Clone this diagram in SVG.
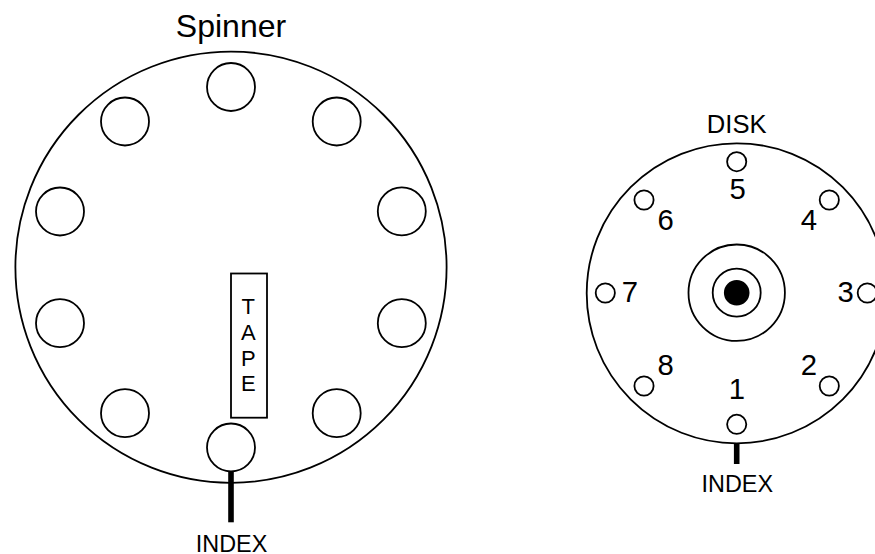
<svg xmlns="http://www.w3.org/2000/svg" width="875" height="554" viewBox="0 0 875 554">
<style>
.s{fill:none;stroke:#000;stroke-width:1.8}
.bar{stroke:#000;stroke-width:5.6;fill:none}
text{font-family:"Liberation Sans",Arial,sans-serif;fill:#000;text-anchor:middle}
.t32{font-size:32px}.t23{font-size:23.4px}.t25{font-size:25.6px}.t22{font-size:22px}.t29{font-size:29.3px}
</style>
<rect width="875" height="554" fill="#fff"/>
<g id="spinner">
<circle class="s" cx="231" cy="267.2" r="215.6"/>
<text class="t32" x="231" y="36.7">Spinner</text>
<circle class="s" cx="231" cy="87" r="24"/>
<circle class="s" cx="125" cy="121.5" r="24"/>
<circle class="s" cx="336.7" cy="121.5" r="24"/>
<circle class="s" cx="60" cy="211.5" r="24"/>
<circle class="s" cx="401.8" cy="211.3" r="24"/>
<circle class="s" cx="60" cy="323.2" r="24"/>
<circle class="s" cx="401.8" cy="323.2" r="24"/>
<circle class="s" cx="125" cy="413.2" r="24"/>
<circle class="s" cx="336.7" cy="413.2" r="24"/>
<circle class="s" cx="231" cy="447.5" r="24"/>
</g>
<g id="tape">
<rect class="s" x="231" y="273.5" width="36" height="144.2"/>
<text class="t22" x="248.3" y="314.3">T</text>
<text class="t22" x="248.3" y="340">A</text>
<text class="t22" x="248.3" y="365.7">P</text>
<text class="t22" x="248.3" y="391.3">E</text>
</g>
<g id="disk">
<circle class="s" cx="736.7" cy="293.3" r="150"/>
<text class="t25" x="736.7" y="132.7">DISK</text>
<circle class="s" cx="736.7" cy="292.7" r="48.2"/>
<circle class="s" cx="736.7" cy="292.7" r="24"/>
<circle cx="736.7" cy="292.7" r="12.8" fill="#000"/>
<circle class="s" cx="736.7" cy="161.7" r="9.6"/>
<circle class="s" cx="644" cy="200" r="9.6"/>
<circle class="s" cx="829.3" cy="200" r="9.6"/>
<circle class="s" cx="605.3" cy="293" r="9.6"/>
<circle class="s" cx="867.3" cy="293" r="9.6"/>
<circle class="s" cx="644" cy="386" r="9.6"/>
<circle class="s" cx="829.3" cy="386" r="9.6"/>
<circle class="s" cx="736.7" cy="424.3" r="9.6"/>
<text class="t29" x="737.7" y="199.3">5</text>
<text class="t29" x="665.7" y="230">6</text>
<text class="t29" x="809" y="230">4</text>
<text class="t29" x="630" y="302.3">7</text>
<text class="t29" x="845.7" y="302.3">3</text>
<text class="t29" x="665.7" y="375">8</text>
<text class="t29" x="809" y="375">2</text>
<text class="t29" x="737" y="399">1</text>
</g>
<g id="connectors">
<line class="bar" x1="231" y1="471.5" x2="231" y2="522.3"/>
<line class="bar" x1="736.7" y1="443.3" x2="736.7" y2="464"/>
</g>
<g id="index-labels">
<text class="t23" x="231.5" y="551.5">INDEX</text>
<text class="t23" x="737.3" y="491.7">INDEX</text>
</g>
</svg>
